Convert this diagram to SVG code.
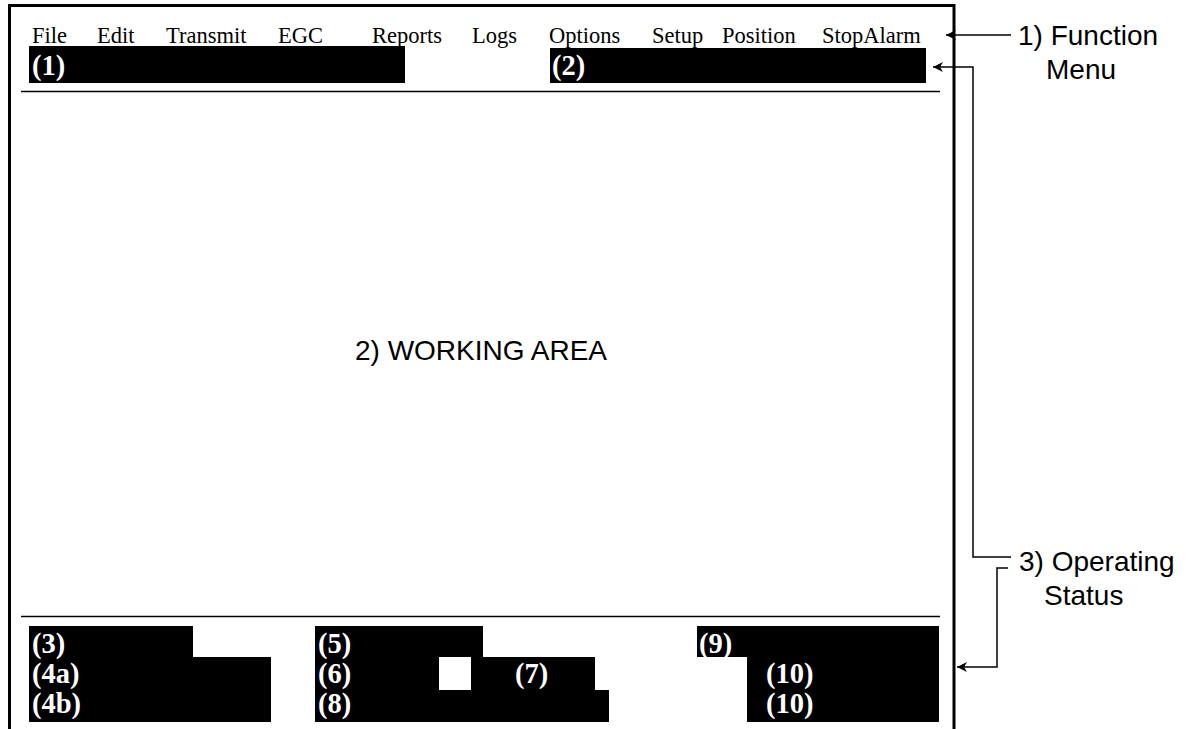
<svg xmlns="http://www.w3.org/2000/svg" width="1188" height="729" viewBox="0 0 1188 729">
<defs>
<style>
.menu{font-family:"Liberation Serif",serif;font-size:22.5px;fill:#000}
.lbl{font-family:"Liberation Serif",serif;font-size:28.5px;font-weight:bold;fill:#fff}
.call{font-family:"Liberation Sans",sans-serif;font-size:28px;fill:#000}
.bar{fill:#000}
.ln{stroke:#000;stroke-width:1.5;fill:none}
</style>
<marker id="ah" viewBox="0 0 10 10" refX="10" refY="5" markerWidth="18" markerHeight="10" markerUnits="userSpaceOnUse" orient="auto">
<path d="M0,0 L10,5 L0,10 L3,5 z" fill="#000"/>
</marker>
</defs>
<rect width="1188" height="729" fill="#fff"/>
<g id="frame">
<path d="M9.5,729 V5.5 H954 V729" fill="none" stroke="#000" stroke-width="3"/>
<line x1="21" y1="91.5" x2="940" y2="91.5" stroke="#000" stroke-width="1.5"/>
<line x1="21" y1="616.5" x2="940" y2="616.5" stroke="#000" stroke-width="1.5"/>
</g>
<g id="menu">
<text class="menu" x="32" y="43">File</text>
<text class="menu" x="97" y="43">Edit</text>
<text class="menu" x="166" y="43">Transmit</text>
<text class="menu" x="278" y="43">EGC</text>
<text class="menu" x="372" y="43">Reports</text>
<text class="menu" x="472" y="43">Logs</text>
<text class="menu" x="549" y="43">Options</text>
<text class="menu" x="652" y="43">Setup</text>
<text class="menu" x="722" y="43">Position</text>
<text class="menu" x="822" y="43">StopAlarm</text>
</g>
<g id="bar1">
<rect class="bar" x="29" y="46" width="376" height="37"/>
<text class="lbl" x="32" y="75">(1)</text>
</g>
<g id="bar2">
<rect class="bar" x="550" y="48" width="376" height="35"/>
<text class="lbl" x="552" y="75">(2)</text>
</g>
<g id="working">
<text class="call" x="481" y="360" text-anchor="middle">2) WORKING AREA</text>
</g>
<g id="status-left">
<path class="bar" d="M29,626 H193 V657 H271 V722 H29 Z"/>
<text class="lbl" x="32" y="653">(3)</text>
<text class="lbl" x="32" y="683">(4a)</text>
<text class="lbl" x="32" y="713">(4b)</text>
</g>
<g id="status-mid">
<path class="bar" d="M315,626 H483 V657 H595 V690 H609 V722 H315 Z"/>
<rect x="439" y="657" width="32" height="33" fill="#fff"/>
<text class="lbl" x="318" y="653">(5)</text>
<text class="lbl" x="318" y="683">(6)</text>
<text class="lbl" x="515" y="683">(7)</text>
<text class="lbl" x="318" y="713">(8)</text>
</g>
<g id="status-right">
<path class="bar" d="M697,626 H939 V722 H747 V657 H697 Z"/>
<text class="lbl" x="699" y="653">(9)</text>
<text class="lbl" x="766" y="683">(10)</text>
<text class="lbl" x="766" y="713">(10)</text>
</g>
<g id="callout1">
<text class="call" x="1018" y="45">1) Function</text>
<text class="call" x="1046" y="79">Menu</text>
</g>
<g id="callout3">
<text class="call" x="1019" y="571">3) Operating</text>
<text class="call" x="1044" y="605">Status</text>
</g>
<g id="connectors">
<path class="ln" d="M1011,35 H946" marker-end="url(#ah)"/>
<path class="ln" d="M1011,557 H973 V67 H933" marker-end="url(#ah)"/>
<path class="ln" d="M1008,568 H997 V667 H957" marker-end="url(#ah)"/>
</g>
</svg>
